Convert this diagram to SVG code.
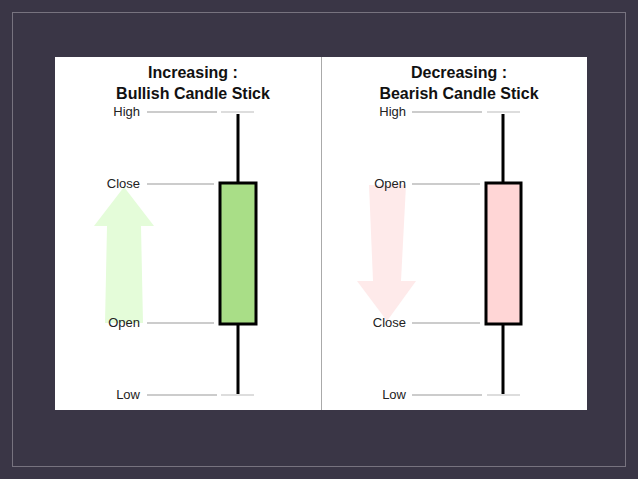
<svg xmlns="http://www.w3.org/2000/svg" width="638" height="479" viewBox="0 0 638 479">
<style>
.t{font-family:"Liberation Sans",Arial,sans-serif;font-size:13px;fill:#222;text-anchor:end}
.h{font-family:"Liberation Sans",Arial,sans-serif;font-size:16px;font-weight:bold;fill:#111;text-anchor:middle}
.g{stroke:#999;stroke-width:1}
.d{stroke:#ddd;stroke-width:2}
.w{stroke:#000;stroke-width:3}
</style>
<rect width="638" height="479" fill="#3a3646"/>
<rect x="12.5" y="12.5" width="613" height="454" fill="none" stroke="#77737f" stroke-width="1"/>
<rect x="55" y="57" width="532" height="353" fill="#fff"/>
<line x1="321.5" y1="57" x2="321.5" y2="410" stroke="#aaa"/>
<g id="bull">
<text class="h" x="193" y="78">Increasing :</text>
<text class="h" x="193" y="99">Bullish Candle Stick</text>
<polygon points="124,187 154,226 141,226 143,323 105,323 107,226 94,226" fill="#e4fcd9"/>
<text class="t" x="140" y="116">High</text><text class="t" x="140" y="188">Close</text>
<text class="t" x="140" y="327">Open</text><text class="t" x="140" y="399">Low</text>
<line class="g" x1="147" y1="112" x2="217" y2="112"/><line class="g" x1="147" y1="184" x2="214" y2="184"/>
<line class="g" x1="147" y1="323" x2="214" y2="323"/><line class="g" x1="147" y1="395" x2="217" y2="395"/>
<line class="d" x1="221" y1="112" x2="254" y2="112"/><line class="d" x1="221" y1="395" x2="254" y2="395"/>
<line class="w" x1="238" y1="114" x2="238" y2="394"/>
<rect x="220" y="183" width="36" height="141" fill="#a9de87" stroke="#000" stroke-width="3"/>
</g>
<g id="bear">
<text class="h" x="459" y="78">Decreasing :</text>
<text class="h" x="459" y="99">Bearish Candle Stick</text>
<polygon points="369,185 406,185 401,281 416,281 387,321 357,281 373,281" fill="#feeaea"/>
<text class="t" x="406" y="116">High</text><text class="t" x="406" y="188">Open</text>
<text class="t" x="406" y="327">Close</text><text class="t" x="406" y="399">Low</text>
<line class="g" x1="412" y1="112" x2="482" y2="112"/><line class="g" x1="412" y1="184" x2="480" y2="184"/>
<line class="g" x1="412" y1="323" x2="480" y2="323"/><line class="g" x1="412" y1="395" x2="482" y2="395"/>
<line class="d" x1="487" y1="112" x2="520" y2="112"/><line class="d" x1="487" y1="395" x2="520" y2="395"/>
<line class="w" x1="503" y1="114" x2="503" y2="394"/>
<rect x="486" y="183" width="35" height="141" fill="#ffd6d6" stroke="#000" stroke-width="3"/>
</g>
</svg>
